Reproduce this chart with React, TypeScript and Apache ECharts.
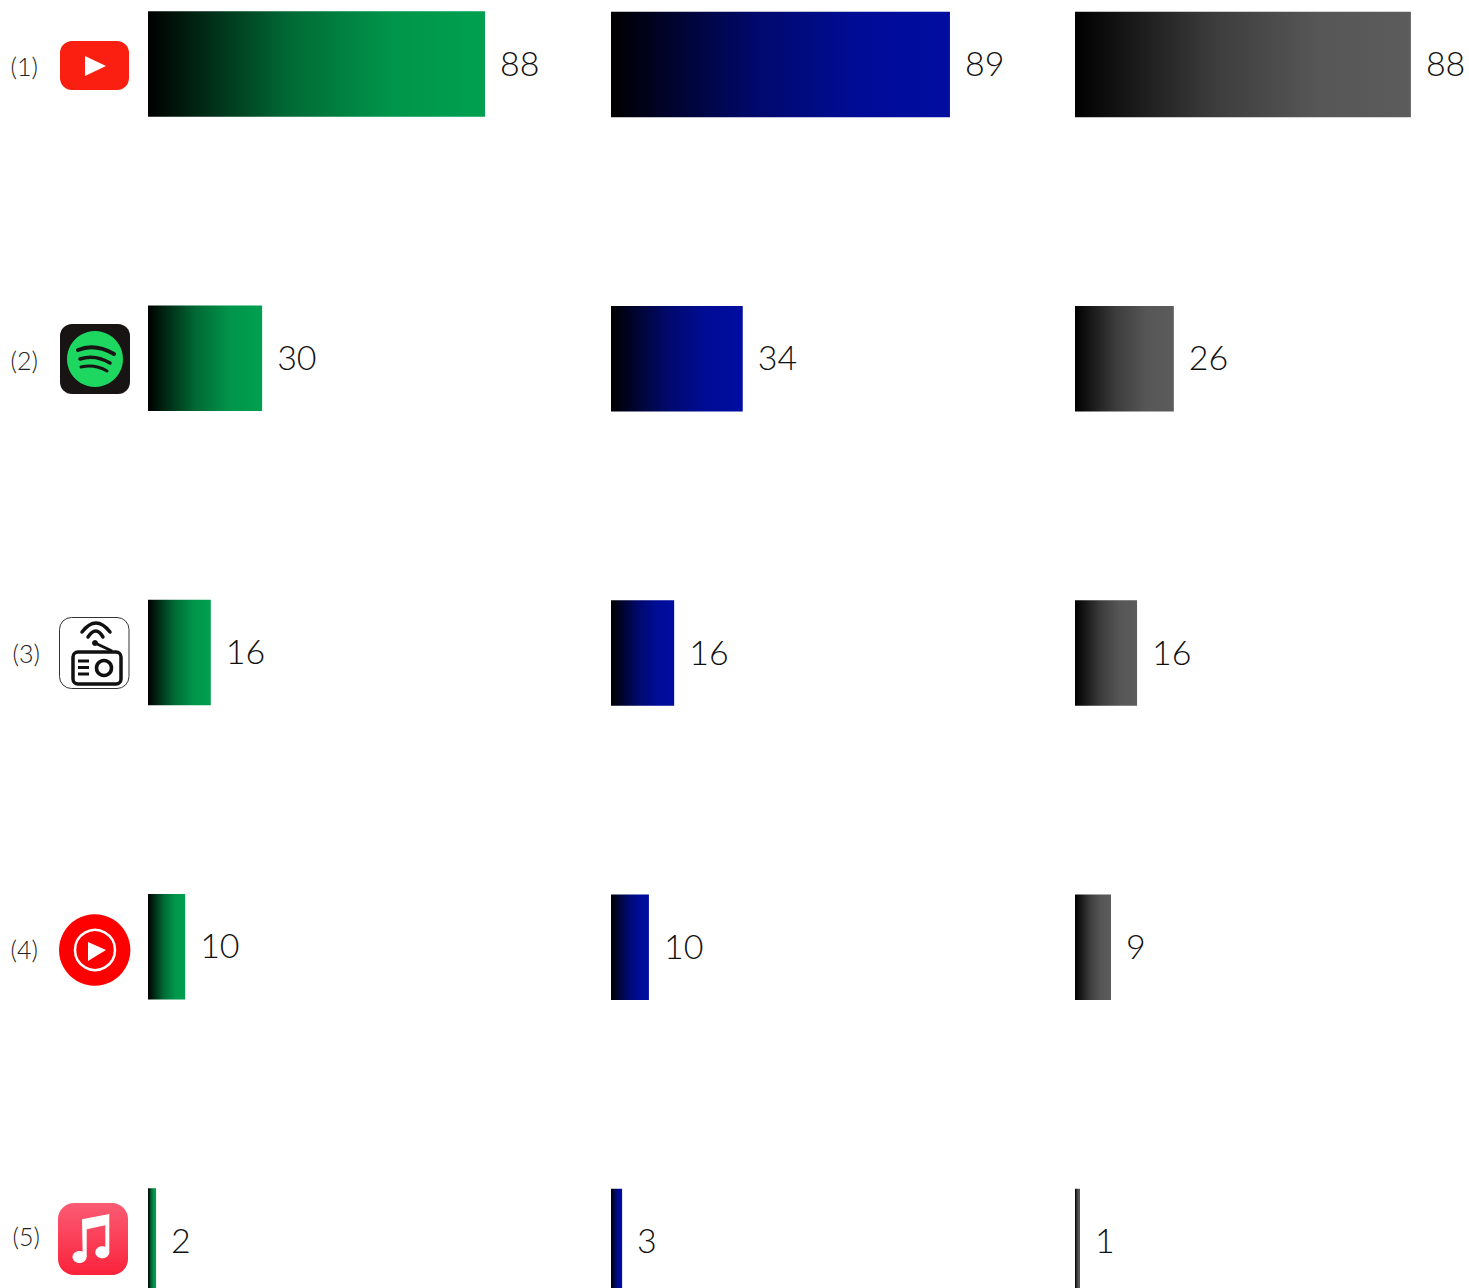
import React, { useEffect, useRef } from "react";
import * as echarts from "echarts";

const rowLabels = ["(1)", "(2)", "(3)", "(4)", "(5)"];
// The printed labels are these values rounded.
const greenValues = [88.0, 29.8, 16.4, 9.7, 2.1];
const blueValues = [88.5, 34.4, 16.49, 9.9, 2.9];
const grayValues = [87.7, 25.8, 16.2, 9.4, 1.3];

const FONT = "Lato";
const W = 1469;
const H = 1288;
const PITCH = 294.25;

const ramp = (r: number, g: number, b: number) =>
  new echarts.graphic.LinearGradient(0, 0, 1, 0, [0, 0.42, 0.72, 1].map((o, i) => {
    const k = [0, 0.66, 0.93, 1][i];
    return { offset: o, color: `rgb(${Math.round(r * k)},${Math.round(g * k)},${Math.round(b * k)})` };
  }));

const columns = [
  { values: greenValues, left: 148, center: 64, fill: ramp(0, 160, 80) },
  { values: blueValues, left: 611, center: 64.5, fill: ramp(0, 13, 160) },
  { values: grayValues, left: 1075, center: 64.5, fill: ramp(92, 92, 92) },
];

// Where each row label sits in the reference: right edge and vertical centre.
const labelAnchors = [
  [38, 66],
  [38, 360],
  [40, 653],
  [38, 949],
  [40, 1236],
];

const dark = "#111";
const round = { lineCap: "round" as const, fill: "none" };

const curve = (x1: number, y1: number, cx: number, cy: number, x2: number, y2: number, stroke: string, lineWidth: number) => ({
  type: "bezierCurve",
  shape: { x1, y1, x2, y2, cpx1: cx, cpy1: cy },
  style: { stroke, lineWidth, ...round },
});

const rowLabelGraphics: any[] = rowLabels.map((text, i) => ({
  type: "text",
  x: labelAnchors[i][0],
  y: labelAnchors[i][1],
  style: {
    text,
    fill: "#222",
    font: `300 25px ${FONT}`,
    textAlign: "right",
    textVerticalAlign: "middle",
  },
}));

const iconGraphics: any[] = [
  // YouTube
  { type: "rect", shape: { x: 60, y: 41, width: 69, height: 49, r: 12 }, style: { fill: "#fa1f10" } },
  { type: "polygon", shape: { points: [[85, 56], [85, 76], [106, 66]] }, style: { fill: "#fff" } },
  // Spotify
  { type: "rect", shape: { x: 60, y: 324, width: 70, height: 70, r: 12 }, style: { fill: "#191414" } },
  { type: "circle", shape: { cx: 95, cy: 359, r: 28 }, style: { fill: "#1ed760" } },
  curve(78, 350, 95, 343, 114, 354, "#191414", 4),
  curve(80, 359, 95, 354, 110, 363, "#191414", 3.5),
  curve(81, 367, 95, 364, 107, 371, "#191414", 3),
  // Radio
  { type: "rect", shape: { x: 59.5, y: 617.5, width: 69.5, height: 71, r: 12 }, style: { fill: "#fff", stroke: "#333", lineWidth: 1 } },
  { type: "rect", shape: { x: 73, y: 652, width: 48, height: 32, r: 5 }, style: { fill: "#fff", stroke: dark, lineWidth: 3.5 } },
  { type: "circle", shape: { cx: 104, cy: 668, r: 7.5 }, style: { fill: "#fff", stroke: dark, lineWidth: 3.5 } },
  ...[661, 667.5, 674].map((y) => ({ type: "line", shape: { x1: 78, y1: y, x2: 89, y2: y }, style: { stroke: dark, lineWidth: 3 } })),
  { type: "circle", shape: { cx: 95, cy: 643, r: 3 }, style: { fill: dark } },
  { type: "line", shape: { x1: 95, y1: 643, x2: 112, y2: 651 }, style: { stroke: dark, lineWidth: 3 } },
  curve(82, 632, 96, 614, 110, 632, dark, 3.5),
  curve(88, 637, 96, 625, 103, 637, dark, 3.5),
  // YouTube Music
  { type: "circle", shape: { cx: 94.7, cy: 950, r: 35.7 }, style: { fill: "#ff0000" } },
  { type: "circle", shape: { cx: 95, cy: 950, r: 20 }, style: { fill: "none", stroke: "#fff", lineWidth: 2.5 } },
  { type: "polygon", shape: { points: [[88, 942], [88, 961], [106, 950]] }, style: { fill: "#fff" } },
  // Apple Music
  {
    type: "rect",
    shape: { x: 58, y: 1203, width: 70, height: 72, r: 16 },
    style: { fill: new echarts.graphic.LinearGradient(0, 0, 0, 1, [{ offset: 0, color: "#fb5c74" }, { offset: 1, color: "#fa233b" }]) },
  },
  {
    type: "polygon",
    shape: { points: [[82, 1219.3], [109.3, 1214], [109.3, 1252], [105.3, 1252], [105.3, 1225.3], [86.7, 1229.3], [86.7, 1257], [82.7, 1257]] },
    style: { fill: "#fff" },
  },
  { type: "ellipse", shape: { cx: 79.5, cy: 1257, rx: 7, ry: 6 }, style: { fill: "#fff" } },
  { type: "ellipse", shape: { cx: 102.3, cy: 1252.3, rx: 7, ry: 6 }, style: { fill: "#fff" } },
];

export default function App() {
  const ref = useRef<HTMLDivElement>(null);
  useEffect(() => {
    const chart = echarts.init(ref.current!, null, { renderer: "svg" });
    chart.setOption({
      animation: false,
      backgroundColor: "#fff",
      graphic: { elements: [...rowLabelGraphics, ...iconGraphics] },
      grid: columns.map((c) => ({
        left: c.left,
        width: 383,
        top: c.center - PITCH / 2,
        height: PITCH * 5,
        containLabel: false,
        outerBoundsMode: "none",
      })),
      xAxis: columns.map((_, i) => ({ type: "value", gridIndex: i, min: 0, max: 100, show: false })),
      yAxis: columns.map((_, i) => ({
        type: "category",
        gridIndex: i,
        inverse: true,
        data: rowLabels,
        show: false,
      })),
      series: columns.map((c, i) => ({
        type: "bar",
        xAxisIndex: i,
        yAxisIndex: i,
        data: c.values,
        barWidth: 105.5,
        itemStyle: { color: c.fill },
        label: {
          show: true,
          position: "right",
          distance: 15,
          offset: [0, -2],
          fontFamily: FONT,
          fontWeight: 300,
          fontSize: 34,
          color: "#111",
          formatter: (p: any) => String(Math.round(p.value)),
        },
      })),
    });
    return () => chart.dispose();
  }, []);
  return <div ref={ref} style={{ position: "fixed", left: 0, top: 0, width: W, height: H }} />;
}
